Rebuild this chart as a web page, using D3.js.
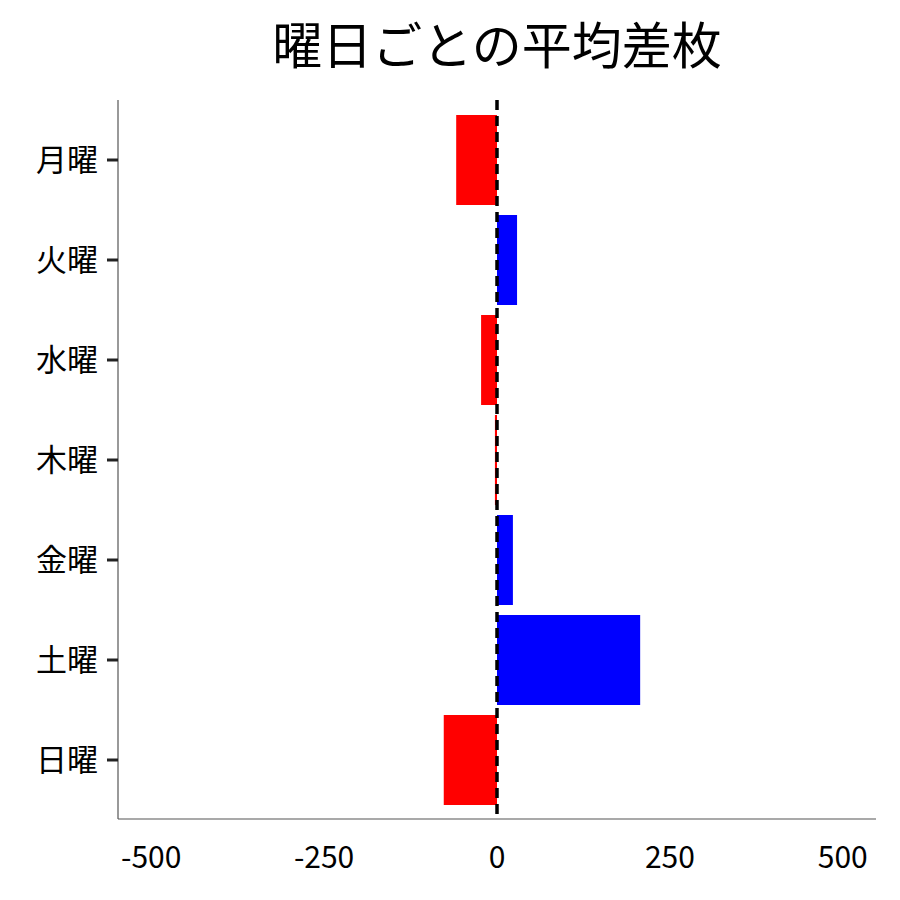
<!DOCTYPE html>
<html><head><meta charset="utf-8">
<script src="https://cdn.jsdelivr.net/npm/d3@7"></script>
<style>body{margin:0;background:#fff}</style>
</head><body>
<svg id="c" width="900" height="900"></svg>
<script>
const days = ["月曜","火曜","水曜","木曜","金曜","土曜","日曜"];
const diffs = [-59, 29, -23, -3, 23, 207, -77];
const xTicks = [-500,-250,0,250,500];
const title = "曜日ごとの平均差枚";

const svg = d3.select("#c");
const font = "'Noto Sans CJK JP', 'Noto Sans', sans-serif";
const x = d3.scaleLinear().domain([-548,548]).range([118,876]);
const y = d3.scaleBand().domain(days).range([110,810]).paddingInner(0.1).paddingOuter(0.05);

svg.selectAll("rect.bar").data(days).enter().append("rect")
  .attr("x", (d,i)=>x(Math.min(0,diffs[i])))
  .attr("width", (d,i)=>Math.abs(x(diffs[i])-x(0)))
  .attr("y", d=>y(d)).attr("height", y.bandwidth())
  .attr("fill", (d,i)=>diffs[i]>=0?"#0000ff":"#ff0000");

svg.append("line").attr("x1",x(0)).attr("x2",x(0)).attr("y1",100).attr("y2",819)
  .attr("stroke","#000").attr("stroke-width",3.5).attr("stroke-dasharray","10,6");

// axes lines
svg.append("line").attr("x1",118).attr("x2",118).attr("y1",100).attr("y2",819).attr("stroke","#555").attr("stroke-width",1.2);
svg.append("line").attr("x1",118).attr("x2",876).attr("y1",819).attr("y2",819).attr("stroke","#555").attr("stroke-width",1.2);

days.forEach(d=>{
  const cy = y(d)+y.bandwidth()/2;
  svg.append("line").attr("x1",107).attr("x2",118).attr("y1",cy).attr("y2",cy).attr("stroke","#222").attr("stroke-width",3);
  svg.append("text").attr("x",98).attr("y",cy).attr("dy","0.35em").attr("text-anchor","end")
    .attr("font-family",font).attr("font-size",31).text(d);
});
xTicks.forEach(t=>{
  svg.append("text").attr("x",x(t)).attr("y",857).attr("dy","0.35em").attr("text-anchor","middle")
    .attr("font-family",font).attr("font-size",30).text(t);
});
svg.append("text").attr("x",497).attr("y",46).attr("dy","0.35em").attr("text-anchor","middle")
  .attr("font-family",font).attr("font-size",50).text(title);
</script>
</body></html>
